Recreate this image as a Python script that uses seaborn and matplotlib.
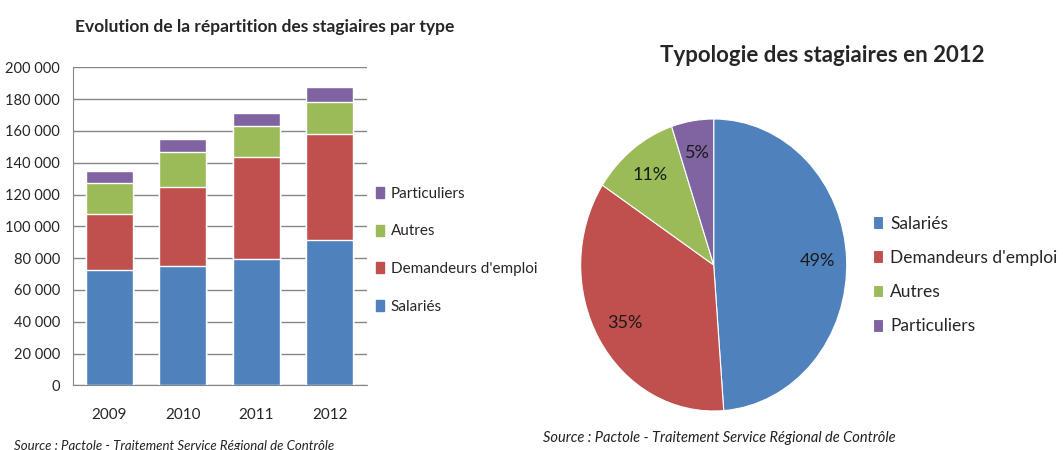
import numpy as np
import pandas as pd
import matplotlib
matplotlib.use("Agg")
import matplotlib.pyplot as plt
from matplotlib.ticker import FuncFormatter
from matplotlib.patches import Patch
import seaborn as sns

# --------------------------------
# DATA
# --------------------------------

years = ["2009", "2010", "2011", "2012"]

salaries = [72500, 75000, 79500, 91500]
demandeurs = [35000, 49500, 64000, 66400]
autres = [20000, 22000, 19500, 20000]
particuliers = [7000, 8500, 8000, 9600]

series_names = ["Salariés", "Demandeurs d'emploi", "Autres", "Particuliers"]
colors = ["#4F81BD", "#C0504D", "#9BBB59", "#8064A2"]

source_text = "Source : Pactole - Traitement Service Régional de Contrôle"

# --------------------------------
# STYLE
# --------------------------------

sns.set_style("white")
plt.rcParams["font.family"] = ["Lato", "DejaVu Sans"]

W, H = 1063, 450
fig = plt.figure(figsize=(W / 100, H / 100), dpi=100)


def px_axes(x0, y0, x1, y1):
    return fig.add_axes([x0 / W, 1 - y1 / H, (x1 - x0) / W, (y1 - y0) / H])


# --------------------------------
# STACKED BARS (layered cumulative)
# --------------------------------

ax = px_axes(72.7, 67.3, 366.7, 385.3)

df = pd.DataFrame({
    "year": years,
    "Salariés": salaries,
    "Demandeurs d'emploi": demandeurs,
    "Autres": autres,
    "Particuliers": particuliers,
})

cum = df[series_names].cumsum(axis=1)

for name, color in reversed(list(zip(series_names, colors))):
    sns.barplot(
        x=df["year"],
        y=cum[name],
        color=color,
        width=0.64,
        saturation=1,
        ax=ax,
        zorder=3,
    )

ax.set_xlim(-0.5, 3.5)
ax.set_ylim(0, 200000)
ax.set_yticks(np.arange(0, 200001, 20000))
ax.yaxis.set_major_formatter(
    FuncFormatter(lambda v, p: f"{int(v):,}".replace(",", " "))
)
ax.grid(axis="y", color="#868686", linewidth=1, zorder=0)
ax.set_axisbelow(True)
for s in ["top", "right"]:
    ax.spines[s].set_visible(False)
for s in ["left", "bottom"]:
    ax.spines[s].set_color("#868686")
ax.set_xlabel("")
ax.set_ylabel("")
ax.tick_params(axis="y", length=4, color="#868686", pad=5, labelsize=10.5)
ax.tick_params(axis="x", length=0, pad=16, labelsize=11)

handles = [Patch(color=c) for c in colors][::-1]
ax.legend(
    handles,
    series_names[::-1],
    loc="center left",
    bbox_to_anchor=(0.985, 0.5 - (250 - 226) / 318),
    frameon=False,
    handlelength=0.55,
    handleheight=0.75,
    handletextpad=0.4,
    labelspacing=1.55,
    prop={"size": 11},
)

fig.text(75 / W, 1 - 27 / H, "Evolution de la répartition des stagiaires par type",
         fontsize=12.5, fontweight="bold", va="center", ha="left")
fig.text(14 / W, 1 - 446 / H, source_text, fontsize=9.5,
         style="italic", va="center", ha="left", color="#222222")

# --------------------------------
# PIE 2012
# --------------------------------

pie_values = [salaries[-1], demandeurs[-1], autres[-1], particuliers[-1]]

cx, cy, rx, ry = 713.7, 265.0, 133.0, 146.0
pax = px_axes(cx - rx, cy - ry, cx + rx, cy + ry)
wedges, texts, autotexts = pax.pie(
    pie_values,
    colors=colors,
    startangle=90,
    counterclock=False,
    autopct="%.0f%%",
    pctdistance=0.78,
    wedgeprops={"linewidth": 0.8, "edgecolor": "white"},
    textprops={"fontsize": 13, "color": "#1a1a1a"},
)
pax.set_aspect("auto")
pax.set_xlim(-1, 1)
pax.set_ylim(-1, 1)

pax.legend(
    wedges,
    series_names,
    loc="center left",
    bbox_to_anchor=(1.04, 0.5 - (275 - 265) / (2 * ry)),
    frameon=False,
    handlelength=0.6,
    handleheight=0.75,
    handletextpad=0.4,
    labelspacing=1.05,
    fontsize=12.5,
)

fig.text(822 / W, 1 - 56 / H, "Typologie des stagiaires en 2012",
         fontsize=16, fontweight="bold", va="center", ha="center")
fig.text(543 / W, 1 - 438 / H, source_text, fontsize=10.5,
         style="italic", va="center", ha="left", color="#222222")

fig.savefig("out.png", dpi=100)
